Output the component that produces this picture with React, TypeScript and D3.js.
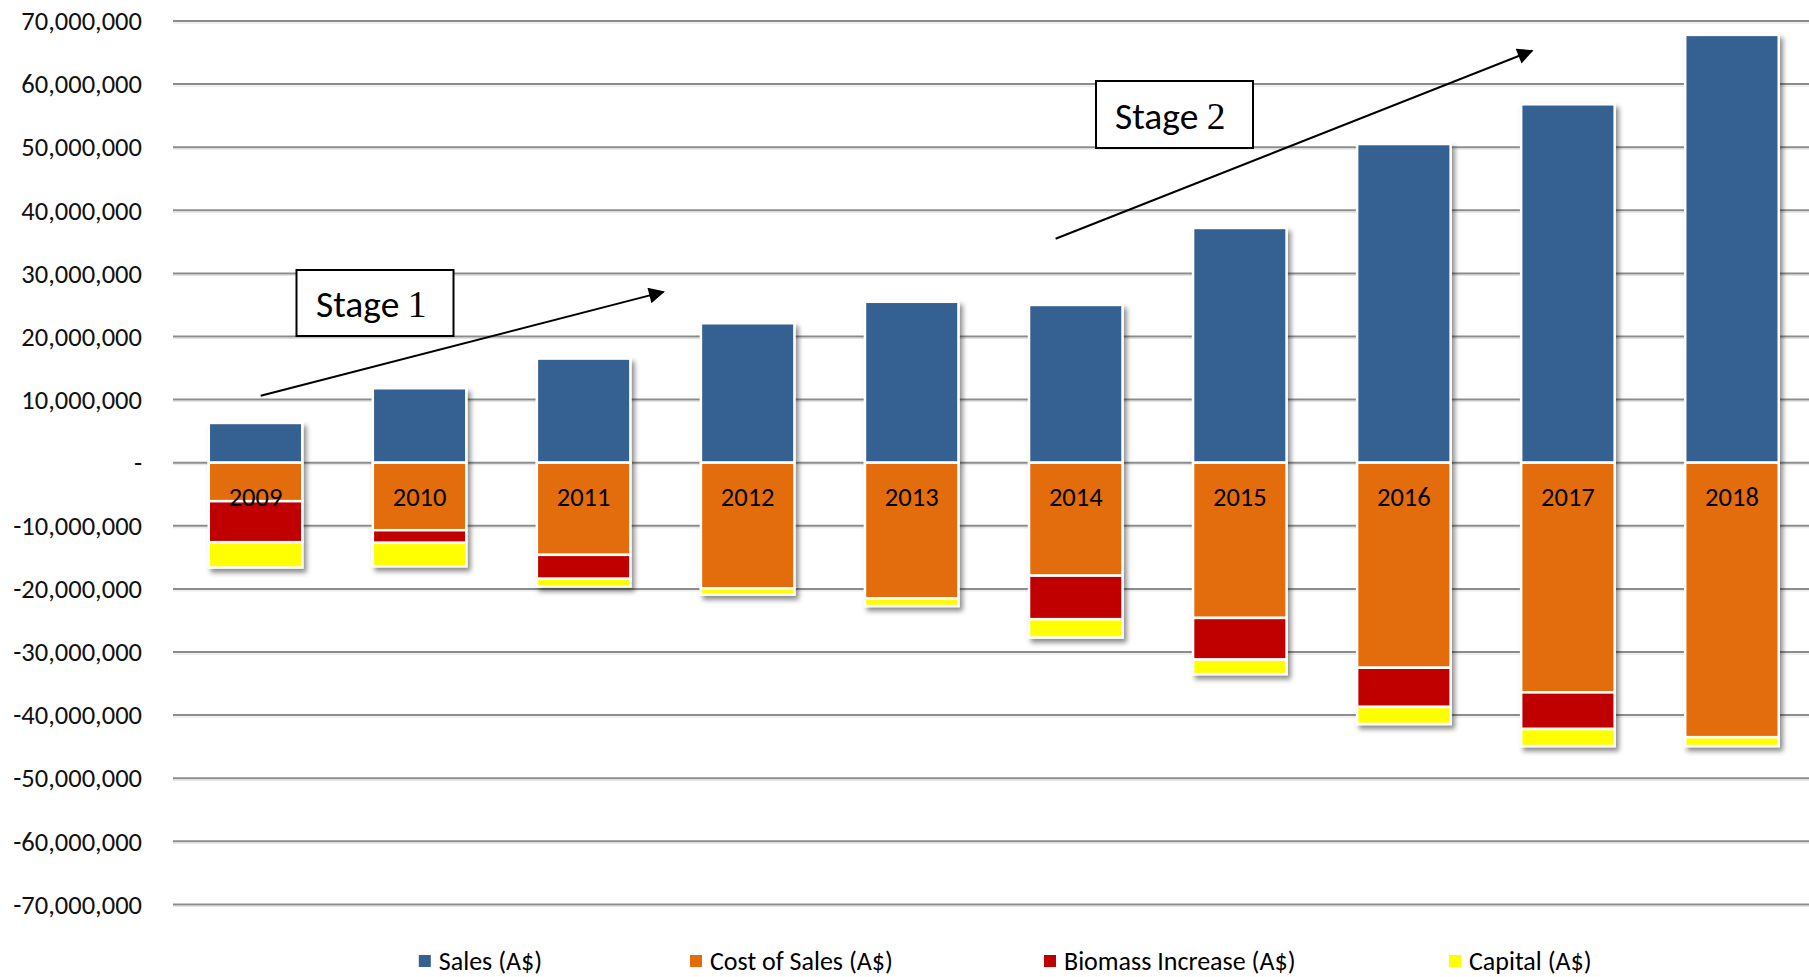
import React, { useEffect, useRef } from "react";
import * as d3 from "d3";

// Fish farm financials by year (A$)
const years = ["2009", "2010", "2011", "2012", "2013", "2014", "2015", "2016", "2017", "2018"];
const sales = [6.3e6, 11.8e6, 16.5e6, 22.1e6, 25.5e6, 25.0e6, 37.2e6, 50.5e6, 56.8e6, 67.8e6];
const costOfSales = [-6.1e6, -10.7e6, -14.6e6, -19.9e6, -21.5e6, -17.9e6, -24.6e6, -32.5e6, -36.4e6, -43.5e6];
const biomassIncrease = [-6.5e6, -2.0e6, -3.8e6, 0, 0, -6.9e6, -6.6e6, -6.2e6, -5.8e6, 0];
const capital = [-4.0e6, -3.7e6, -1.2e6, -1.0e6, -1.2e6, -2.9e6, -2.3e6, -2.7e6, -2.7e6, -1.4e6];

const seriesKeys = ["sales", "cost", "biomass", "capital"];
const seriesNames = ["Sales (A$)", "Cost of Sales (A$)", "Biomass Increase (A$)", "Capital (A$)"];
const seriesColors = ["#366092", "#E36C0A", "#C00000", "#FFFF00"];

const yTicks = [70e6, 60e6, 50e6, 40e6, 30e6, 20e6, 10e6, 0, -10e6, -20e6, -30e6, -40e6, -50e6, -60e6, -70e6];

const W = 1809;
const H = 977;
const FONT = "Carlito, Lato, 'Open Sans', sans-serif";

export default function App() {
  const ref = useRef<SVGSVGElement>(null);

  useEffect(() => {
    const svg = d3.select(ref.current);
    svg.selectAll("*").remove();

    const x = d3.scaleBand<string>().domain(years).range([173.5, 1814]).paddingInner(0.43).paddingOuter(0.215);
    const y = d3.scaleLinear().domain([-70e6, 70e6]).range([904.4, 21]);

    const defs = svg.append("defs");
    const shadow = defs.append("filter").attr("id", "barShadow")
      .attr("x", "-20%").attr("y", "-20%").attr("width", "140%").attr("height", "140%");
    shadow.append("feDropShadow").attr("dx", 3).attr("dy", 4).attr("stdDeviation", 2.5)
      .attr("flood-color", "#000").attr("flood-opacity", 0.45);

    const marker = defs.append("marker").attr("id", "arrowHead")
      .attr("viewBox", "0 0 10 10").attr("refX", 9).attr("refY", 5)
      .attr("markerWidth", 10).attr("markerHeight", 8).attr("markerUnits", "strokeWidth")
      .attr("orient", "auto");
    marker.append("path").attr("d", "M0,0 L10,5 L0,10 Z").attr("fill", "#000");

    // Gridlines
    const grid = svg.append("g");
    grid.selectAll("line.shade").data(yTicks).join("line")
      .attr("x1", 173).attr("x2", W)
      .attr("y1", (d) => y(d) + 2).attr("y2", (d) => y(d) + 2)
      .attr("stroke", "#e2e2e2").attr("stroke-width", 1);
    grid.selectAll("line.main").data(yTicks).join("line")
      .attr("x1", 173).attr("x2", W)
      .attr("y1", (d) => y(d)).attr("y2", (d) => y(d))
      .attr("stroke", "#8c8c8c").attr("stroke-width", 2);

    // Y-axis labels (hyphen for negatives, dash for zero)
    const fmt = d3.format(",");
    svg.append("g").selectAll("text").data(yTicks).join("text")
      .attr("x", 142).attr("y", (d) => y(d))
      .attr("dy", "0.35em").attr("text-anchor", "end")
      .attr("font-family", FONT).attr("font-size", 26.5).attr("fill", "#111")
      .text((d) => (d === 0 ? "-" : (d < 0 ? "-" : "") + fmt(Math.abs(d))));

    // Stacked bars
    const rows = years.map((yr, i) => ({
      year: yr,
      sales: sales[i],
      cost: costOfSales[i],
      biomass: biomassIncrease[i],
      capital: capital[i],
    }));
    const stacked = d3.stack<any>().keys(seriesKeys).offset(d3.stackOffsetDiverging)(rows);

    const bars = svg.append("g");
    years.forEach((yr, i) => {
      const g = bars.append("g").attr("filter", "url(#barShadow)");
      stacked.forEach((layer, k) => {
        const seg = layer[i];
        if (seg[0] === seg[1]) return;
        const top = y(Math.max(seg[0], seg[1]));
        const bottom = y(Math.min(seg[0], seg[1]));
        g.append("rect")
          .attr("x", x(yr)!).attr("width", x.bandwidth())
          .attr("y", top).attr("height", bottom - top)
          .attr("fill", seriesColors[k])
          .attr("stroke", "#fff").attr("stroke-width", 2.5);
      });
    });

    // Year labels inside the bars
    svg.append("g").selectAll("text").data(years).join("text")
      .attr("x", (d) => x(d)! + x.bandwidth() / 2).attr("y", y(0) + 34)
      .attr("dy", "0.35em").attr("text-anchor", "middle")
      .attr("font-family", FONT).attr("font-size", 26.5).attr("fill", "#000")
      .text((d) => d);

    // Stage annotations
    const stages = [
      { label: "Stage ", num: "1", box: [296.5, 270, 157, 66], text: [316, 317], arrow: [260.7, 395.7, 663.4, 291.9] },
      { label: "Stage ", num: "2", box: [1096, 81, 157, 67], text: [1115, 129], arrow: [1055.6, 238.8, 1532, 50.8] },
    ];
    const ann = svg.append("g");
    stages.forEach((s) => {
      ann.append("line")
        .attr("x1", s.arrow[0]).attr("y1", s.arrow[1])
        .attr("x2", s.arrow[2]).attr("y2", s.arrow[3])
        .attr("stroke", "#000").attr("stroke-width", 2)
        .attr("marker-end", "url(#arrowHead)");
      ann.append("rect")
        .attr("x", s.box[0]).attr("y", s.box[1]).attr("width", s.box[2]).attr("height", s.box[3])
        .attr("fill", "#fff").attr("stroke", "#000").attr("stroke-width", 2);
      const t = ann.append("text").attr("x", s.text[0]).attr("y", s.text[1])
        .attr("font-size", 37.5).attr("fill", "#000");
      t.append("tspan").attr("font-family", FONT).text(s.label);
      t.append("tspan").attr("font-family", "'Liberation Serif', 'DejaVu Serif', serif").text(s.num);
    });

    // Legend
    const legendX = [418.8, 690, 1044, 1449];
    const leg = svg.append("g");
    seriesNames.forEach((name, k) => {
      leg.append("rect").attr("x", legendX[k]).attr("y", 955).attr("width", 12).attr("height", 12)
        .attr("fill", seriesColors[k]);
      leg.append("text").attr("x", legendX[k] + 20).attr("y", 961).attr("dy", "0.35em")
        .attr("font-family", FONT).attr("font-size", 26).attr("fill", "#000").text(name);
    });
  }, []);

  return (
    <div style={{ position: "absolute", left: 0, top: 0 }}>
      <svg ref={ref} width={W} height={H} style={{ display: "block", background: "#fff" }} />
    </div>
  );
}
